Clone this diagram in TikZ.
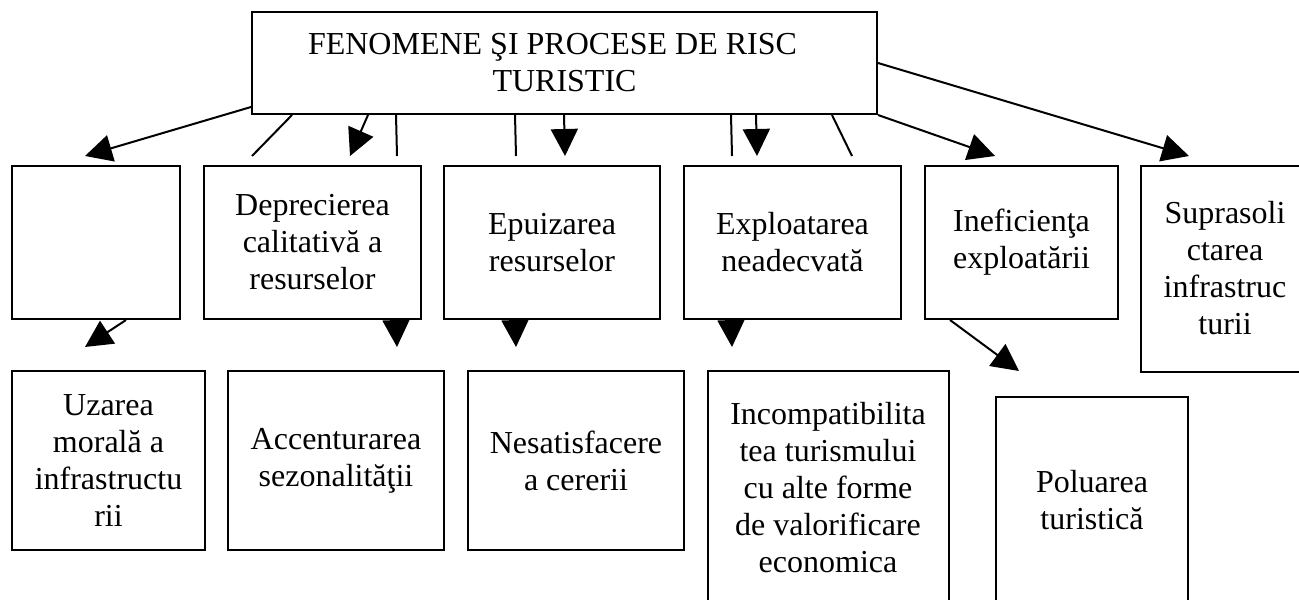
\documentclass[tikz,border=0pt]{standalone}
\usepackage{fontspec}
\setmainfont{Liberation Serif}
\usetikzlibrary{arrows.meta}

\tikzset{
  box/.style={draw, line width=1pt, fill=white, inner sep=0pt, align=center,
    font=\fontsize{16pt}{18.5pt}\selectfont},
  arr/.style={-{Triangle[length=13.5pt,width=13.5pt]}}
}

\begin{document}
\begin{tikzpicture}[x=0.5pt, y=-0.5pt, line width=1pt]
    \useasboundingbox (0,0) rectangle (1299,599);
    \clip (0,0) rectangle (1299,599);
    \fill[white] (0,0) rectangle (1299,599);
    \node[box, minimum width=312.5pt, minimum height=51pt] (top) at (564.5,63) {FENOMENE ŞI PROCESE DE RISC\hspace*{12pt}\\TURISTIC};
    \node[box, minimum width=84pt, minimum height=76.5pt] (gol) at (96,242.5) {};
    \node[box, minimum width=108.5pt, minimum height=76.5pt] (deprec) at (312.5,242.5) {Deprecierea\\calitativă a\\resurselor};
    \node[box, minimum width=108pt, minimum height=76.5pt] (epuiz) at (552,242.5) {Epuizarea\\resurselor};
    \node[box, minimum width=108.5pt, minimum height=76.5pt] (exploat) at (792.5,242.5) {Exploatarea\\neadecvată};
    \node[box, minimum width=96.5pt, minimum height=76.5pt] (inef) at (1021.5,242.5) {Ineficienţa\\exploatării};
    \node[box, minimum width=84pt, minimum height=103pt] (supra) at (1225,268.5) {Suprasoli\\ctarea\\infrastruc\\turii};
    \node[box, minimum width=96.5pt, minimum height=89.5pt] (uzare) at (108.5,460.5) {Uzarea\\morală a\\infrastructu\\rii};
    \node[box, minimum width=108pt, minimum height=89.5pt] (accent) at (336,460.5) {Accenturarea\\sezonalităţii};
    \node[box, minimum width=108pt, minimum height=89.5pt] (nesat) at (576,460.5) {Nesatisfacere\\a cererii};
    \node[box, minimum width=120.5pt, minimum height=117pt] (incomp) at (828,488) {Incompatibilita\\tea turismului\\cu alte forme\\de valorificare\\economica};
    \node[box, minimum width=96pt, minimum height=103pt] (polu) at (1092,500) {Poluarea\\turistică};
    \coordinate (tGol) at (85,156);
    \coordinate (eA) at (252,156);
    \coordinate (tDeprec) at (350,156);
    \coordinate (eB) at (397,156);
    \coordinate (eC) at (516,156);
    \coordinate (tEpuiz) at (565,156);
    \coordinate (eD) at (732,156);
    \coordinate (tExploat) at (757,156);
    \coordinate (eE) at (852,156);
    \coordinate (tInef) at (995,156);
    \coordinate (tSupra) at (1189,156);
    \coordinate (tUzare) at (85,347);
    \coordinate (tAccent) at (397,347);
    \coordinate (tNesat) at (516,347);
    \coordinate (tIncomp) at (732,347);
    \coordinate (tPolu) at (1019,371);
    \draw[arr] ([yshift=4pt]top.south west) -- (tGol);
    \draw ([xshift=20.5pt]top.south west) -- (eA);
    \draw[arr] ([xshift=58.5pt]top.south west) -- (tDeprec);
    \draw ([xshift=72.5pt]top.south west) -- (eB);
    \draw ([xshift=132pt]top.south west) -- (eC);
    \draw[arr] ([xshift=156.5pt]top.south west) -- (tEpuiz);
    \draw ([xshift=240pt]top.south west) -- (eD);
    \draw[arr] ([xshift=252.5pt]top.south west) -- (tExploat);
    \draw ([xshift=290.5pt]top.south west) -- (eE);
    \draw[arr] (top.south east) -- (tInef);
    \draw[arr] (top.east) -- (tSupra);
    \draw[arr] ([xshift=57.5pt]gol.south west) -- (tUzare);
    \draw[arr] ([xshift=96.5pt]deprec.south west) -- (tAccent);
    \draw[arr] ([xshift=36pt]epuiz.south west) -- (tNesat);
    \draw[arr] ([xshift=24pt]exploat.south west) -- (tIncomp);
    \draw[arr] ([xshift=13pt]inef.south west) -- (tPolu);
\end{tikzpicture}
\end{document}
